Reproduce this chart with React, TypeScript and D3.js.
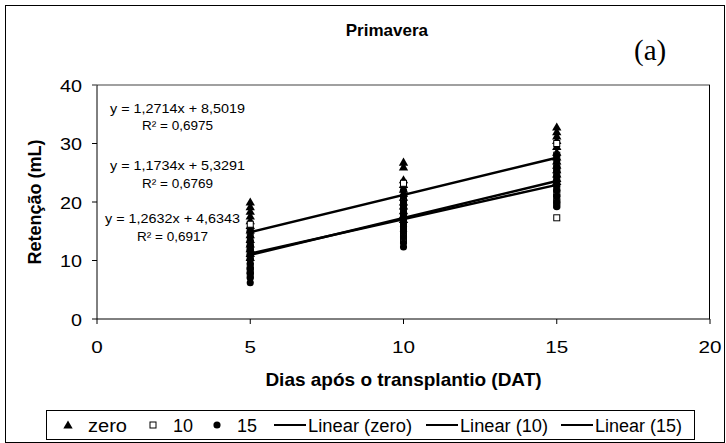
import React from "react";
import * as d3 from "d3";

const xTicks = [0, 5, 10, 15, 20];
const yTicks = [0, 10, 20, 30, 40];

const xDays = [5, 10, 15];

// values per series, per day
const zeroAt5 = [20, 19.2, 18.4, 17.6, 16.8, 16, 15.2, 14.4, 13.6, 12.8, 12, 11.2, 10.5];
const zeroAt10 = [26.8, 26, 23.8, 23, 22.2, 21.5, 20.8, 20, 19.3, 18.5, 17.8, 17];
const zeroAt15 = [32.8, 32, 31.3, 30.5, 29.5, 28.5, 27.7, 27, 26.3, 25.5, 24.8, 24, 23.5];

const tenAt5 = [16.2, 14.9, 13, 12, 11.5, 10.5, 9, 8.3, 7.5];
const tenAt10 = [23.2, 20.2, 19, 18, 17.2, 16.5, 15.8, 15, 14, 13.5];
const tenAt15 = [30, 28, 26, 25.1, 23.8, 22.2, 21.5, 20.8, 20, 19.5, 17.3];

const fifteenAt5 = [6.2, 7, 7.8, 8.6, 9.5, 10.2, 11, 11.8, 12.5, 13.3, 14, 15];
const fifteenAt10 = [12.3, 13, 14, 15, 15.8, 16.5, 17.3, 18, 19, 20, 21, 22];
const fifteenAt15 = [19.2, 20, 21, 22, 22.8, 23.6, 24.4, 25.2, 26, 27, 28];

const slopes = [1.2714, 1.1734, 1.2632];
const intercepts = [8.5019, 5.3291, 4.6343];
const eqLabels = ["y = 1,2714x + 8,5019", "y = 1,1734x + 5,3291", "y = 1,2632x + 4,6343"];
const r2Labels = ["R² = 0,6975", "R² = 0,6769", "R² = 0,6917"];
const legendLabels = ["zero", "10", "15", "Linear (zero)", "Linear (10)", "Linear (15)"];

const seriesData = [
  [zeroAt5, zeroAt10, zeroAt15],
  [tenAt5, tenAt10, tenAt15],
  [fifteenAt5, fifteenAt10, fifteenAt15],
];

const W = 726;
const H = 443;
const margin = { left: 97, right: 16, top: 85, bottom: 124 };
const FONT = "Arial, 'Liberation Sans', sans-serif";

const x = d3.scaleLinear().domain([0, 20]).range([margin.left, W - margin.right]);
const y = d3.scaleLinear().domain([0, 40]).range([H - margin.bottom, margin.top]);

const triPath = d3.symbol(d3.symbolTriangle, 38)()!;
const circPath = d3.symbol(d3.symbolCircle, 40)()!;

function Marker({ kind, cx, cy }: { kind: number; cx: number; cy: number }) {
  if (kind === 0) return <path d={triPath} transform={`translate(${cx},${cy + 0.8})`} fill="#000" />;
  if (kind === 1)
    return <rect x={cx - 3} y={cy - 3} width={6} height={6} fill="#fff" stroke="#000" strokeWidth={1} />;
  return <path d={circPath} transform={`translate(${cx},${cy})`} fill="#000" />;
}

export default function App() {
  const x0 = x(0), x1 = x(20), y0 = y(0), y1 = y(40);
  const eqPos = [
    { cx: 177.5, y: 112.5 },
    { cx: 177.5, y: 170 },
    { cx: 172.5, y: 223 },
  ];
  const legY = 425;
  const legBase = 431.5;
  const markerItems = [
    { kind: 0, mx: 68, tx: 88, w: 39, label: legendLabels[0] },
    { kind: 1, mx: 153, tx: 173, w: 20, label: legendLabels[1] },
    { kind: 2, mx: 217, tx: 237, w: 20, label: legendLabels[2] },
  ];
  const lineItems = [
    { lx: 274, tx: 308, w: 104, label: legendLabels[3] },
    { lx: 426, tx: 460, w: 88, label: legendLabels[4] },
    { lx: 561, tx: 595, w: 87, label: legendLabels[5] },
  ];
  return (
    <svg width={W} height={H} style={{ display: "block", position: "absolute", left: 0, top: 0 }}>
      <rect x={0} y={0} width={W} height={H} fill="#fff" />
      <rect x={5.5} y={5.5} width={719} height={437} fill="none" stroke="#000" strokeWidth={1} />
      <text x={428} y={36} textAnchor="end" fontFamily={FONT} fontWeight="bold" fontSize={17}>
        Primavera
      </text>
      <text x={634} y={60} fontFamily="'Liberation Serif', 'Times New Roman', serif" fontSize={29}>
        (a)
      </text>
      {/* plot area border */}
      <line x1={x0 - 5} y1={y1} x2={x1} y2={y1} stroke="#808080" strokeWidth={1.5} />
      <line x1={x1 - 0.5} y1={y1} x2={x1 - 0.5} y2={y0} stroke="#000" strokeWidth={1} />
      {/* axes */}
      <line x1={x0} y1={y1} x2={x0} y2={y0} stroke="#000" strokeWidth={1} />
      <line x1={x0} y1={y0} x2={x1} y2={y0} stroke="#000" strokeWidth={1} />
      {yTicks.map((t) => (
        <g key={"y" + t}>
          <line x1={x0 - 5} x2={x0} y1={y(t)} y2={y(t)} stroke={t === 40 ? "#808080" : "#000"} />
          <text
            x={82}
            y={y(t) + 6.5}
            textAnchor="end"
            fontFamily={FONT}
            fontSize={17}
            textLength={String(t).length * 11}
            lengthAdjust="spacingAndGlyphs"
          >
            {t}
          </text>
        </g>
      ))}
      {xTicks.map((t) => (
        <g key={"x" + t}>
          <line x1={x(t)} x2={x(t)} y1={y0} y2={y0 + 5} stroke="#000" />
          <text
            x={x(t)}
            y={353}
            textAnchor="middle"
            fontFamily={FONT}
            fontSize={17}
            textLength={String(t).length * 11.5}
            lengthAdjust="spacingAndGlyphs"
          >
            {t}
          </text>
        </g>
      ))}
      <text
        transform={`translate(41,${(y0 + y1) / 2}) rotate(-90)`}
        textAnchor="middle"
        fontFamily={FONT}
        fontWeight="bold"
        fontSize={18}
      >
        Retenção (mL)
      </text>
      <text x={(x0 + x1) / 2} y={386} textAnchor="middle" fontFamily={FONT} fontWeight="bold" fontSize={19}>
        Dias após o transplantio (DAT)
      </text>
      {/* points */}
      {seriesData.map((s, si) => (
        <g key={"s" + si}>
          {s.map((vals, di) =>
            vals.map((v, vi) => <Marker key={di + "-" + vi} kind={si} cx={x(xDays[di])} cy={y(v)} />)
          )}
        </g>
      ))}
      {/* trend lines */}
      {slopes.map((m, i) => (
        <line
          key={"t" + i}
          x1={x(5)}
          y1={y(m * 5 + intercepts[i])}
          x2={x(15)}
          y2={y(m * 15 + intercepts[i])}
          stroke="#000"
          strokeWidth={2.5}
        />
      ))}
      {/* equations */}
      {eqPos.map((p, i) => (
        <g key={"e" + i} fontFamily={FONT} fontSize={13.5}>
          <text x={p.cx} y={p.y} textAnchor="middle" textLength={135} lengthAdjust="spacingAndGlyphs">
            {eqLabels[i]}
          </text>
          <text x={p.cx} y={p.y + 17.5} textAnchor="middle">
            {r2Labels[i]}
          </text>
        </g>
      ))}
      {/* legend */}
      <rect x={46.5} y={410.5} width={648} height={29} fill="#fff" stroke="#000" strokeWidth={1} />
      {markerItems.map((it, i) => (
        <g key={"l" + i}>
          <Marker kind={it.kind} cx={it.mx} cy={legY} />
          <text
            x={it.tx}
            y={legBase}
            fontFamily={FONT}
            fontSize={18}
            textLength={it.w}
            lengthAdjust="spacingAndGlyphs"
          >
            {it.label}
          </text>
        </g>
      ))}
      {lineItems.map((it, i) => (
        <g key={"ll" + i}>
          <line x1={it.lx} x2={it.lx + 32} y1={legY} y2={legY} stroke="#000" strokeWidth={2} />
          <text
            x={it.tx}
            y={legBase}
            fontFamily={FONT}
            fontSize={18}
            textLength={it.w}
            lengthAdjust="spacingAndGlyphs"
          >
            {it.label}
          </text>
        </g>
      ))}
    </svg>
  );
}
